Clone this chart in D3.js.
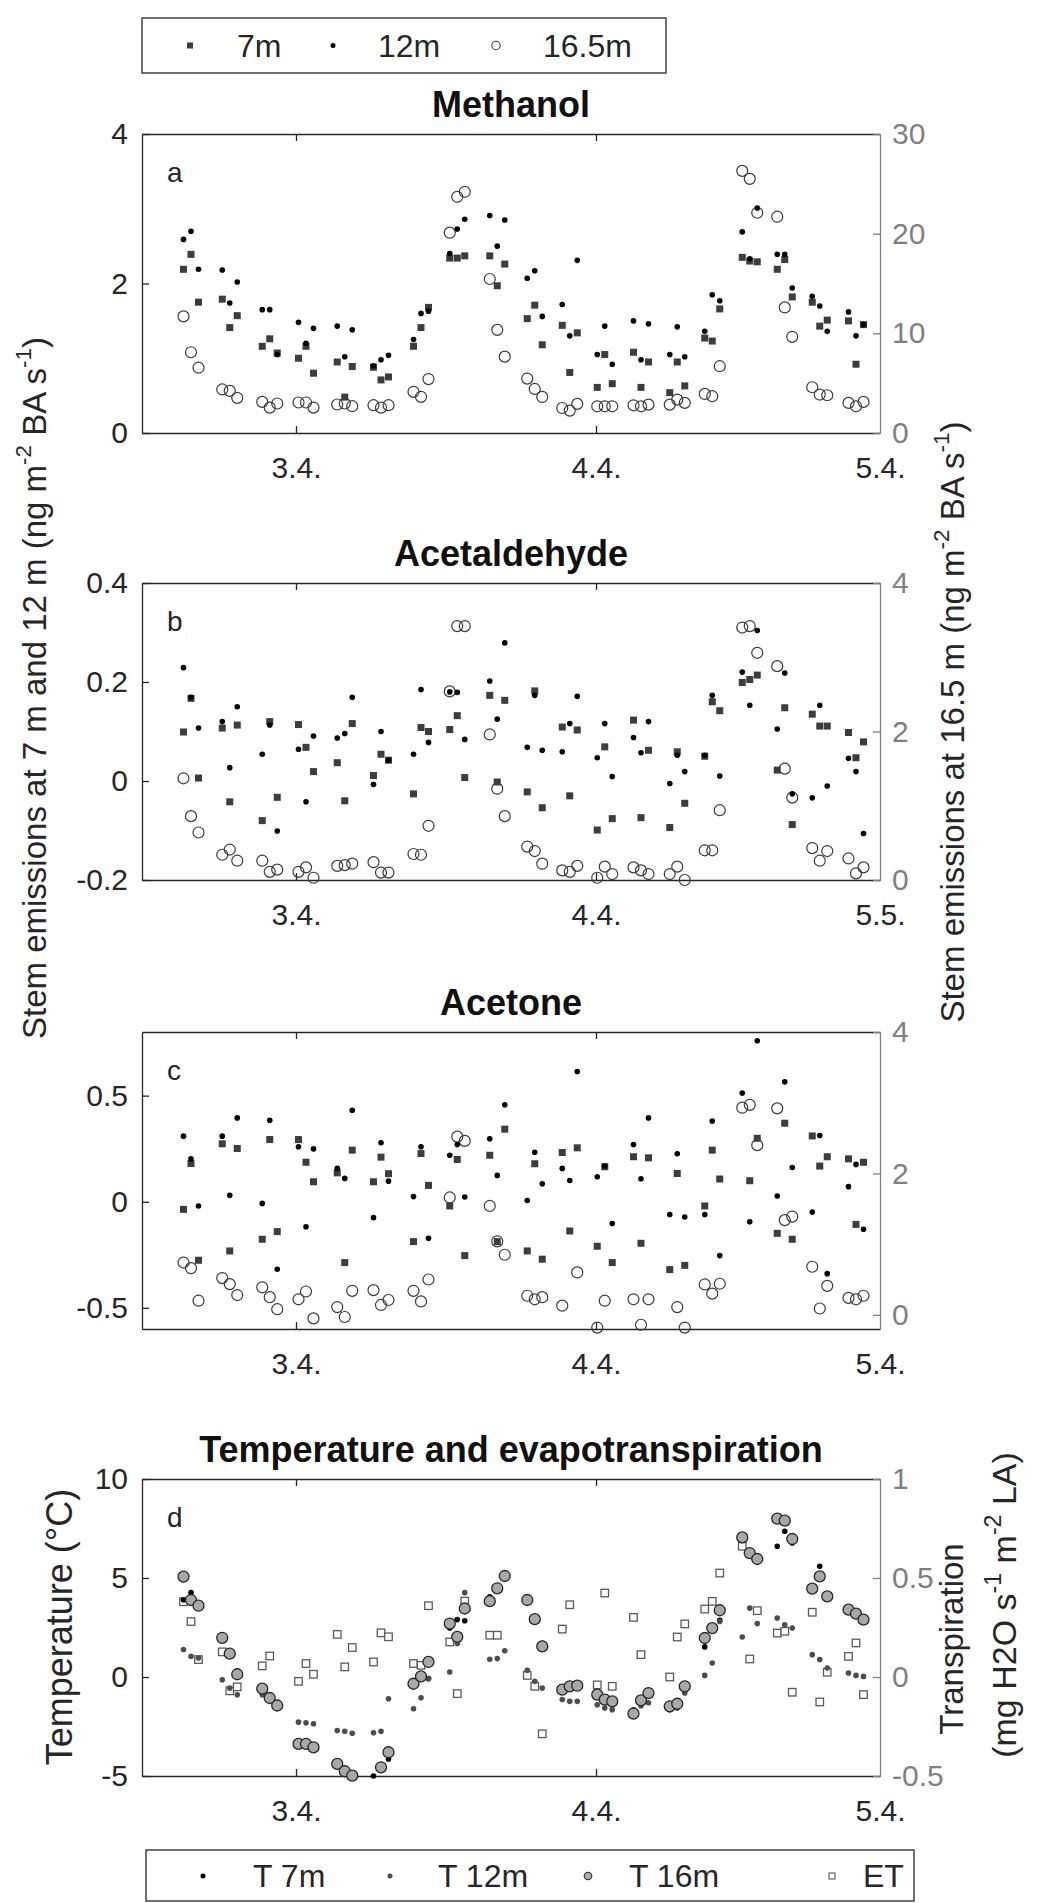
<!doctype html>
<html>
<head>
<meta charset="utf-8">
<script src="https://d3js.org/d3.v7.min.js"></script>
<style>
  body { margin: 0; background: #fff; }
  svg text { font-family: "Liberation Sans", Arial, sans-serif; }
</style>
</head>
<body>
<svg width="1059" height="1903"></svg>
<script>
// sampling times, hours after 3.4. 00:00 (three samples every ~3 h)
var hours = [-9.0,-8.4,-7.8, -5.9,-5.3,-4.7, -2.7,-2.1,-1.5, 0.2,0.8,1.4, 3.3,3.9,4.5,
  6.2,6.8,7.4, 9.4,10.0,10.6, 12.3,12.9,13.5, 15.5,16.1,16.7, 18.5,19.1,19.7,
  21.3,21.9,22.5, 24.1,24.7,25.3, 27.0,27.6,28.2, 29.9,30.5,31.1, 32.7,33.3,33.9,
  35.7,36.3,36.9, 38.5,39.1,39.7, 41.3,41.9,42.5, 44.2,44.8,45.4];

var xTickHours = [0, 24, 46.72];
var xTickLabels = ["3.4.", "4.4.", "5.4."];
var xTickLabelsB = ["3.4.", "4.4.", "5.5."];

// a: methanol
var methanol7 = [2.19,2.39,1.75, 1.79,1.41,1.57, 1.16,1.26,1.07, 1.00,1.16,0.80, 0.95,0.48,0.89,
  0.88,0.71,0.75, 1.16,1.41,1.68, 2.34,2.34,2.37, 2.37,1.97,2.26, 1.53,1.71,1.18,
  1.44,0.81,1.34, 0.61,1.05,0.66, 1.08,0.61,0.95, 0.54,0.95,0.63, 1.27,1.23,1.66,
  2.35,2.30,2.29, 2.19,2.32,1.82, 1.75,1.43,1.51, 1.50,0.92,1.45];
var methanol12 = [2.59,2.70,2.19, 2.18,1.74,2.02, 1.65,1.65,1.05, 1.48,1.20,1.40, 1.43,1.02,1.38,
  0.90,0.98,1.04, 1.25,1.60,1.63, 2.40,2.73,2.86, 2.91,2.50,2.85, 2.07,2.17,1.56,
  1.72,1.30,2.31, 1.05,1.43,0.92, 1.50,0.98,1.46, 1.05,1.42,1.02, 1.36,1.85,1.77,
  2.69,2.33,3.01, 2.39,2.39,1.94, 1.83,1.70,1.36, 1.62,1.30,1.45];
var methanol165 = [11.7,8.1,6.55, 4.37,4.23,3.53, 3.12,2.55,2.96, 3.06,3.06,2.55, 2.86,2.96,2.69,
  2.79,2.55,2.79, 4.13,3.63,5.41, 20.1,23.7,24.2, 15.45,10.35,7.66, 5.46,4.42,3.62,
  2.51,2.25,2.92, 2.68,2.68,2.68, 2.78,2.68,2.85, 2.85,3.35,3.02, 3.92,3.69,6.70,
  26.3,25.5,22.1, 21.7,12.6,9.65, 4.59,3.86,3.79, 3.02,2.68,3.12];

// b: acetaldehyde
var acetal7 = [0.099,0.167,0.006, 0.107,-0.042,0.113, -0.080,0.120,-0.033, 0.114,0.068,0.019, 0.037,-0.040,0.116,
  0.011,0.054,0.042, -0.026,0.108,0.100, 0.104,0.132,0.007, 0.173,-0.002,0.163, -0.022,0.182,-0.054,
  0.109,-0.030,0.103, -0.099,0.069,-0.076, 0.123,-0.074,0.062, -0.094,0.059,-0.045, 0.050,0.160,0.142,
  0.199,0.205,0.214, 0.022,0.148,-0.088, 0.135,0.111,0.111, 0.098,0.047,0.079];
var acetal12 = [0.229,0.169,0.107, 0.120,0.027,0.150, 0.054,0.113,-0.101, 0.064,-0.042,0.091, 0.087,0.096,0.169,
  -0.007,0.100,0.042, 0.054,0.185,0.078, 0.180,0.179,0.084, 0.202,0.125,0.279, 0.068,0.173,0.062,
  0.059,0.116,0.171, 0.047,0.116,0.009, 0.088,0.057,0.120, -0.005,0.052,0.019, 0.052,0.173,0.010,
  0.220,0.153,0.304, 0.105,0.218,-0.026, -0.034,0.153,-0.010, 0.046,0.019,-0.106];
var acetal165 = [1.37,0.86,0.64, 0.34,0.41,0.26, 0.26,0.11,0.14, 0.11,0.17,0.03, 0.19,0.20,0.22,
  0.24,0.10,0.10, 0.35,0.34,0.73, 2.54,3.42,3.42, 1.96,1.23,0.86, 0.45,0.39,0.22,
  0.13,0.11,0.19, 0.03,0.18,0.08, 0.17,0.13,0.08, 0.08,0.18,0.00, 0.40,0.40,0.94,
  3.40,3.42,3.06, 2.88,1.50,1.11, 0.43,0.26,0.39, 0.29,0.09,0.17];

// c: acetone
var acetone7 = [-0.036,0.180,-0.276, 0.273,-0.232,0.251, -0.177,0.293,-0.141, 0.293,0.186,0.094, 0.136,-0.287,0.243,
  0.094,0.210,0.132, -0.188,0.227,0.077, -0.020,0.199,-0.254, 0.219,-0.188,0.342, -0.232,0.179,-0.271,
  0.232,-0.138,0.254, -0.210,0.165,-0.287, 0.212,-0.196,0.207, -0.320,0.133,-0.300, -0.020,0.243,0.107,
  null,0.099,0.299, -0.149,0.370,-0.177, 0.310,0.168,0.212, 0.202,-0.107,0.186];
var acetone12 = [0.309,0.202,-0.020, 0.309,0.030,0.395, -0.008,0.384,-0.318, 0.259,-0.118,0.249, 0.157,0.110,0.431,
  -0.075,0.278,0.097, 0.024,0.259,-0.172, 0.219,0.270,0.022, 0.297,0.124,0.457, 0.006,0.233,0.085,
  0.157,0.100,0.614, 0.118,0.168,-0.103, 0.270,0.108,0.395, -0.060,0.226,-0.072, -0.060,0.380,-0.254,
  0.512,-0.095,0.759, 0.027,0.565,0.161, -0.049,0.312,-0.339, 0.071,0.176,-0.130];
var acetone165 = [0.74,0.66,0.20, 0.52,0.435,0.28, 0.39,0.25,0.08, 0.22,0.33,-0.05, 0.11,-0.03,0.34,
  0.35,0.14,0.21, 0.34,0.19,0.50, 1.66,2.52,2.46, 1.54,1.04,0.85, 0.27,0.22,0.25,
  0.13,null,0.60, -0.18,0.20,null, 0.22,-0.14,0.22, null,0.11,-0.18, 0.43,0.30,0.44,
  2.93,2.97,2.40, 2.92,1.34,1.39, 0.68,0.09,0.41, 0.24,0.22,0.27];

// d: temperature (deg C) and evapotranspiration
var temp7 = [3.90,4.27,3.70, 1.90,1.10,0.30, -0.70,-1.10,-1.35, -3.30,-3.35,-3.50, -4.40,-4.70,-4.95,
  -5.00,-4.60,-4.14, -0.42,0.00,-0.08, 2.48,2.90,2.84, 4.05,4.40,5.00, 3.80,2.90,1.70,
  -0.60,-0.50,-0.45, -0.90,-1.15,-1.25, -1.80,-1.20,-0.85, -1.50,-1.35,-0.65, 1.52,2.40,2.86,
  7.10,6.20,6.00, 6.60,7.36,6.77, 4.40,5.59,4.10, 3.40,3.20,2.90];
var temp12 = [1.39,1.05,0.96, -0.14,-0.56,-0.90, -0.90,-1.18,-1.40, -2.28,-2.31,-2.36, -2.70,-2.74,-2.84,
  -2.82,-2.74,-1.10, -1.60,-1.05,-0.08, 0.25,1.69,4.26, 0.90,0.93,1.32, 0.34,-0.22,-0.56,
  -1.14,-1.23,-1.23, -1.40,-1.57,-1.65, -1.65,-1.45,-1.30, -1.65,-1.57,-0.81, 0.08,0.71,2.80,
  2.02,3.48,2.70, 2.98,2.64,2.47, 1.13,0.88,0.45, 0.20,0.08,0.03];
var temp16 = [5.07,3.89,3.60, 1.98,1.18,0.14, -0.59,-1.06,-1.44, -3.38,-3.38,-3.55, -4.39,-4.76,-4.98,
  null,-4.56,-3.80, -0.34,0.03,0.76, 2.70,2.03,3.46, 3.83,4.48,5.10, 3.89,2.92,1.55,
  -0.64,-0.47,-0.44, -0.89,-1.14,-1.23, -1.85,-1.18,-0.81, -1.48,-1.35,-0.47, 1.97,2.47,3.37,
  7.05,6.26,5.96, 8.00,7.90,6.97, 4.46,5.08,4.07, 3.40,3.20,2.90];
var et = [0.38,0.28,0.088, 0.127,-0.07,-0.05, 0.056,0.106,null, -0.022,0.068,0.014, 0.215,0.051,0.149,
  0.076,0.223,0.203, 0.068,0.059,0.36, 0.177,-0.084,0.383, 0.211,0.211,null, 0.008,-0.047,-0.287,
  0.242,0.365,null, -0.04,0.424,-0.047, 0.301,0.113,null, 0.0,0.202,0.268, 0.343,0.382,0.525,
  0.66,0.091,0.335, 0.222,0.231,-0.077, 0.327,-0.126,0.024, 0.104,0.172,-0.089];

var svg = d3.select("svg");
var dark = "#262626", grey = "#808080";
var left = 142, right = 880;

var x = d3.scaleLinear().domain([-12.32, 46.72]).range([left, right]);

// marker styles
var sq7 = {shape: "square", size: 7, fill: "#3d3d3d"};
var dot12 = {shape: "dot", r: 2.8, fill: "#000"};
var ring165 = {shape: "ring", r: 5.5, stroke: "#3a3a3a"};
var dotT7 = {shape: "dot", r: 2.8, fill: "#000"};
var dotT12 = {shape: "dot", r: 2.8, fill: "#4d4d4d"};
var circT16 = {shape: "fillcirc", r: 5.5, fill: "#a8a8a8", stroke: "#262626"};
var sqET = {shape: "open", size: 7.5, stroke: "#5a5a5a"};

function marks(g, vals, scale, st) {
  var data = hours.map(function(h, i) { return {h: h, v: vals[i]}; })
                  .filter(function(d) { return d.v !== null; });
  if (st.shape == "square" || st.shape == "open") {
    g.selectAll(null).data(data).enter().append("rect")
      .attr("x", function(d) { return x(d.h) - st.size / 2; })
      .attr("y", function(d) { return scale(d.v) - st.size / 2; })
      .attr("width", st.size).attr("height", st.size)
      .attr("fill", st.shape == "square" ? st.fill : "#fff")
      .attr("stroke", st.shape == "open" ? st.stroke : "none")
      .attr("stroke-width", 1.3);
  } else {
    g.selectAll(null).data(data).enter().append("circle")
      .attr("cx", function(d) { return x(d.h); })
      .attr("cy", function(d) { return scale(d.v); })
      .attr("r", st.r)
      .attr("fill", st.shape == "ring" ? "none" : st.fill)
      .attr("stroke", st.shape == "dot" ? "none" : st.stroke)
      .attr("stroke-width", st.shape == "ring" ? 1.2 : 1.3);
  }
}

var panels = [
  {letter: "a", title: "Methanol", top: 134, bottom: 433,
   yl: [0, 4], tl: [0, 2, 4], tlLab: ["0", "2", "4"],
   yr: [0, 30], tr: [0, 10, 20, 30], trLab: ["0", "10", "20", "30"], xl: xTickLabels,
   right: [[methanol165, ring165]], leftS: [[methanol7, sq7], [methanol12, dot12]]},
  {letter: "b", title: "Acetaldehyde", top: 583, bottom: 880,
   yl: [-0.2, 0.4], tl: [-0.2, 0, 0.2, 0.4], tlLab: ["-0.2", "0", "0.2", "0.4"],
   yr: [0, 4], tr: [0, 2, 4], trLab: ["0", "2", "4"], xl: xTickLabelsB,
   right: [[acetal165, ring165]], leftS: [[acetal7, sq7], [acetal12, dot12]]},
  {letter: "c", title: "Acetone", top: 1032, bottom: 1329,
   yl: [-0.6, 0.8], tl: [-0.5, 0, 0.5], tlLab: ["-0.5", "0", "0.5"],
   yr: [-0.2, 4], tr: [0, 2, 4], trLab: ["0", "2", "4"], xl: xTickLabels,
   right: [[acetone165, ring165]], leftS: [[acetone7, sq7], [acetone12, dot12]]},
  {letter: "d", title: "Temperature and evapotranspiration", top: 1479, bottom: 1776,
   yl: [-5, 10], tl: [-5, 0, 5, 10], tlLab: ["-5", "0", "5", "10"],
   yr: [-0.5, 1], tr: [-0.5, 0, 0.5, 1], trLab: ["-0.5", "0", "0.5", "1"], xl: xTickLabels,
   right: [[et, sqET]], leftS: [[temp7, dotT7], [temp12, dotT12], [temp16, circT16]]}
];

function styleAxis(g, color) {
  g.attr("color", color);
  g.selectAll("path, line").attr("stroke-width", 1.3);
  g.selectAll("text").style("font-size", "30px").attr("fill", color);
}

panels.forEach(function(p) {
  var yL = d3.scaleLinear().domain(p.yl).range([p.bottom, p.top]);
  var yR = d3.scaleLinear().domain(p.yr).range([p.bottom, p.top]);

  var gb = svg.append("g").attr("transform", "translate(0," + p.bottom + ")")
    .call(d3.axisBottom(x).tickValues(xTickHours)
      .tickFormat(function(d, i) { return p.xl[i]; })
      .tickSizeInner(-7).tickSizeOuter(0).tickPadding(24));
  styleAxis(gb, dark);
  gb.selectAll(".tick line").filter(function(d) { return d > 46; }).remove();

  var gt = svg.append("g").attr("transform", "translate(0," + p.top + ")")
    .call(d3.axisTop(x).tickValues(xTickHours.slice(0, 2)).tickFormat("")
      .tickSizeInner(-7).tickSizeOuter(0));
  styleAxis(gt, dark);

  var gl = svg.append("g").attr("transform", "translate(" + left + ",0)")
    .call(d3.axisLeft(yL).tickValues(p.tl)
      .tickFormat(function(d, i) { return p.tlLab[i]; })
      .tickSizeInner(-7).tickSizeOuter(0).tickPadding(14));
  styleAxis(gl, dark);

  var gr = svg.append("g").attr("transform", "translate(" + right + ",0)")
    .call(d3.axisRight(yR).tickValues(p.tr)
      .tickFormat(function(d, i) { return p.trLab[i]; })
      .tickSizeInner(-7).tickSizeOuter(0).tickPadding(12));
  styleAxis(gr, grey);

  svg.append("text").attr("x", (left + right) / 2).attr("y", p.top - 17)
    .attr("text-anchor", "middle").style("font-size", "36px").style("font-weight", "bold")
    .attr("fill", "#111").text(p.title);

  svg.append("text").attr("x", 167).attr("y", p.top + 48)
    .style("font-size", "28px").attr("fill", dark).text(p.letter);

  var gm = svg.append("g");
  p.right.forEach(function(s) { marks(gm, s[0], yR, s[1]); });
  p.leftS.forEach(function(s) { marks(gm, s[0], yL, s[1]); });
});

// y axis labels
function supLabel(xp, yp, size, parts, color) {
  var t = svg.append("text").attr("transform", "translate(" + xp + "," + yp + ") rotate(-90)")
    .attr("text-anchor", "middle").style("font-size", size + "px").attr("fill", color);
  var up = false;
  parts.forEach(function(s) {
    var sup = s.charAt(0) == "^";
    var ts = t.append("tspan").text(sup ? s.slice(1) : s);
    if (sup) { ts.attr("dy", -0.45 * size).style("font-size", (size * 0.68) + "px"); up = true; }
    else if (up) { ts.attr("dy", 0.45 * size); up = false; }
  });
  return t;
}
supLabel(46, 688, 33, ["Stem emissions at 7 m and 12 m (ng m", "^-2", " BA s", "^-1", ")"], dark);
supLabel(964, 722, 33, ["Stem emissions at 16.5 m (ng m", "^-2", " BA s", "^-1", ")"], dark);
supLabel(72, 1627, 36, ["Temperature (\u00B0C)"], dark);
supLabel(963, 1639, 33, ["Transpiration"], dark);
supLabel(1016, 1605, 34, ["(mg H2O s", "^-1", " m", "^-2", " LA)"], dark);

// top legend
var lg = svg.append("g");
lg.append("rect").attr("x", 142).attr("y", 18).attr("width", 524).attr("height", 55)
  .attr("fill", "#fff").attr("stroke", dark).attr("stroke-width", 1.3);
lg.append("rect").attr("x", 187).attr("y", 42.5).attr("width", 6).attr("height", 6).attr("fill", "#3d3d3d");
lg.append("circle").attr("cx", 333).attr("cy", 45.5).attr("r", 2.5).attr("fill", "#000");
lg.append("circle").attr("cx", 496).attr("cy", 45.5).attr("r", 4.2).attr("fill", "none")
  .attr("stroke", "#3a3a3a").attr("stroke-width", 1.1);
[["7m", 237], ["12m", 378], ["16.5m", 543]].forEach(function(d) {
  lg.append("text").attr("x", d[1]).attr("y", 57).style("font-size", "32px").attr("fill", dark).text(d[0]);
});

// bottom legend
var bl = svg.append("g");
bl.append("rect").attr("x", 146).attr("y", 1850).attr("width", 768).attr("height", 51)
  .attr("fill", "#fff").attr("stroke", dark).attr("stroke-width", 1.3);
bl.append("circle").attr("cx", 203).attr("cy", 1876).attr("r", 2.5).attr("fill", "#000");
bl.append("circle").attr("cx", 390).attr("cy", 1876).attr("r", 2.5).attr("fill", "#4d4d4d");
bl.append("circle").attr("cx", 588).attr("cy", 1876).attr("r", 3.8).attr("fill", "#a8a8a8")
  .attr("stroke", "#262626").attr("stroke-width", 1.1);
bl.append("rect").attr("x", 829).attr("y", 1873).attr("width", 6).attr("height", 6)
  .attr("fill", "#fff").attr("stroke", "#5a5a5a").attr("stroke-width", 1.1);
[["T 7m", 253], ["T 12m", 438], ["T 16m", 629], ["ET", 863]].forEach(function(d) {
  bl.append("text").attr("x", d[1]).attr("y", 1887).style("font-size", "32px").attr("fill", dark).text(d[0]);
});
</script>
</body>
</html>
